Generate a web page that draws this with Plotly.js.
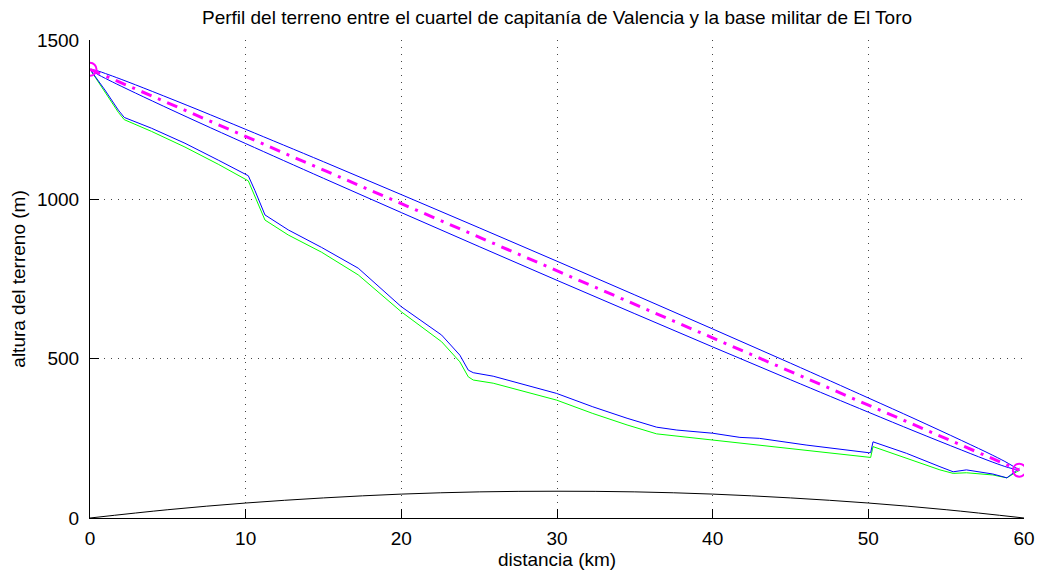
<!DOCTYPE html>
<html><head><meta charset="utf-8">
<script src="https://cdn.plot.ly/plotly-3.0.1.min.js"></script>
<style>html,body{margin:0;padding:0;background:#fff}#chart{width:1037px;height:572px}</style>
</head><body><div id="chart"></div>
<script>
// Terrain profile (blue) and corrected profile (green)
const distBlue = [0, 0.96, 1.82, 2.2, 3.96, 6.1, 8.24, 10.17, 10.6, 11.24, 12.74, 14.88, 17.23, 20.0, 22.59, 23.76, 24.3, 24.62, 25.9, 28.05, 29.97, 32.3, 34.5, 36.4, 37.7, 40.0, 41.75, 43.0, 46.0, 50.0, 50.15, 50.3, 52.45, 54.6, 55.45, 56.3, 58.0, 58.9, 59.3, 59.7];
const altBlue  = [1408, 1343, 1280, 1257, 1223, 1176, 1123, 1074, 1027, 951, 904, 849, 784, 663, 574, 511, 464, 456, 445, 417, 391, 349, 313, 285, 276, 266, 253, 250, 229, 205, 205, 239, 203, 161, 145, 151, 138, 126, 140, 156];
const distGreen = [0, 0.96, 1.82, 2.2, 3.96, 6.1, 8.24, 10.17, 11.24, 12.74, 14.88, 17.23, 20.0, 22.59, 23.76, 24.3, 24.62, 25.9, 28.05, 29.97, 32.3, 34.5, 36.4, 37.7, 40.0, 41.75, 43.0, 46.0, 50.0, 50.15, 50.3, 52.45, 54.6, 55.45, 56.3, 58.0, 58.9, 59.3, 59.7];
const altGreen  = [1408, 1338, 1273, 1250, 1213, 1164, 1110, 1058, 935, 888, 834, 763, 647, 553, 490, 443, 433, 423, 396, 370, 328, 292, 264, 257, 245, 234, 229, 213, 190, 190, 224, 187, 151, 140, 142, 135, 126, 138, 150];
// Earth bulge
const distCurve = [0, 5, 10, 15, 20, 25, 30, 35, 40, 45, 50, 55, 60];
const bulge     = [0, 26, 47, 63, 75, 82, 84, 82, 75, 63, 47, 26, 0];
// Fresnel zone boundaries
const distZone  = [0, 0.5, 1, 2, 4, 7, 10, 15, 20, 25, 30, 35, 40, 45, 50, 53, 56, 58, 59, 59.7];
const zoneUpper = [1408, 1403, 1394.6, 1376.7, 1338.7, 1280, 1219.6, 1118, 1014.8, 910.7, 805.8, 700, 593.3, 485.8, 376.7, 310.7, 243, 196.6, 171.2, 150];
const zoneLower = [1408, 1392, 1379.2, 1355.1, 1308.7, 1241, 1175, 1066, 958.4, 851.7, 745.8, 641, 536.9, 433.8, 332.1, 271.7, 213, 175, 158.2, 150];
// Line of sight between the two stations
const distLink = [0, 59.7];
const altLink  = [1408, 150];

const FONT = 'Liberation Sans, Arial, Helvetica, sans-serif';
const traces = [
  {x: distCurve, y: bulge, mode: 'lines', line: {color: '#000', width: 1, shape: 'spline'}},
  {x: distGreen, y: altGreen, mode: 'lines', line: {color: '#00ff00', width: 1}},
  {x: distBlue, y: altBlue, mode: 'lines', line: {color: '#0000ff', width: 1}},
  {x: distZone, y: zoneUpper, mode: 'lines', line: {color: '#0000ff', width: 1, shape: 'spline'}},
  {x: distZone, y: zoneLower, mode: 'lines', line: {color: '#0000ff', width: 1, shape: 'spline'}},
  {x: distLink, y: altLink, mode: 'lines', line: {color: '#ff00ff', width: 3, dash: '11px,7px,3px,7px'}},
  {x: distLink, y: altLink, mode: 'markers', marker: {symbol: 'circle-open', size: 13, color: '#ff00ff', line: {width: 2, color: '#ff00ff'}}}
];
const axisCommon = {
  showline: true, linecolor: '#000', linewidth: 1,
  ticks: 'inside', ticklen: 9, tickcolor: '#000', tickwidth: 1,
  showgrid: true, gridcolor: '#444', griddash: '1px,6px', gridwidth: 1,
  zeroline: false, tickfont: {family: FONT, size: 19, color: '#000'}
};
const layout = {
  width: 1037, height: 572,
  margin: {l: 90, r: 13, t: 40, b: 54},
  showlegend: false,
  paper_bgcolor: '#fff', plot_bgcolor: '#fff',
  title: {text: 'Perfil del terreno entre el cuartel de capitanía de Valencia y la base militar de El Toro',
          font: {family: FONT, size: 19, color: '#000'}, xref: 'paper', x: 0.5, xanchor: 'center',
          yref: 'container', y: 0.97, yanchor: 'middle'},
  xaxis: Object.assign({}, axisCommon, {range: [0, 60], dtick: 10, tick0: 0, ticklabelstandoff: 3,
    title: {text: 'distancia (km)', font: {family: FONT, size: 19, color: '#000'}, standoff: 2}}),
  yaxis: Object.assign({}, axisCommon, {range: [0, 1500], dtick: 500, tick0: 0, ticklabelstandoff: 6,
    title: {text: 'altura del terreno (m)', font: {family: FONT, size: 19, color: '#000'}, standoff: 6}})
};
Plotly.newPlot('chart', traces, layout, {staticPlot: true, displayModeBar: false});
</script>
</body></html>
